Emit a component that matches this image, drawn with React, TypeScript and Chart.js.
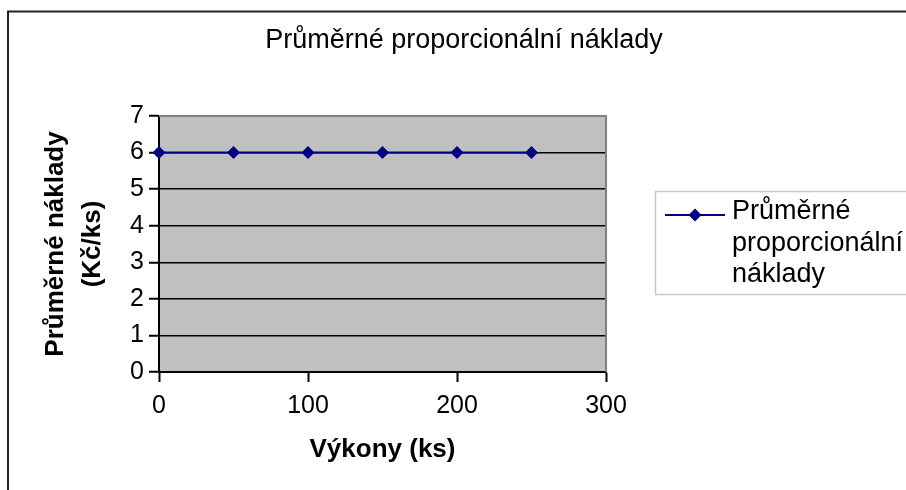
import React, { useEffect, useRef } from "react";
import { Chart, registerables } from "chart.js";

Chart.register(...registerables);

// ---- data ----
const chartTitle = "Průměrné proporcionální náklady";
const seriesLabel = "Průměrné proporcionální náklady";
const outputs = [0, 50, 100, 150, 200, 250];
const avgCosts = [6, 6, 6, 6, 6, 6];
const xAxisTitle = "Výkony (ks)";
const yAxisTitle = ["Průměrné náklady", "(Kč/ks)"];
const xRange = [0, 300];
const xStep = 100;
const yRange = [0, 7];
const yStep = 1;

const FONT = '"Liberation Sans", Arial, Helvetica, sans-serif';
const NAVY = "#000080";

const decor = {
  id: "excelDecor",
  afterLayout(chart: any) {
    const t = chart.titleBlock;
    if (t) {
      const w = t.right - t.left;
      const c = 464;
      t.left = c - w / 2;
      t.right = c + w / 2;
    }
  },
  beforeDraw(chart: any) {
    const { ctx, chartArea: a } = chart;
    ctx.save();
    ctx.fillStyle = "#ffffff";
    ctx.fillRect(0, 0, chart.width, chart.height);
    ctx.strokeStyle = "#222";
    ctx.lineWidth = 2;
    ctx.strokeRect(8, 11.5, chart.width + 40, chart.height + 40);
    ctx.fillStyle = "#c0c0c0";
    ctx.fillRect(a.left, a.top, a.right - a.left, a.bottom - a.top);
    ctx.restore();
  },
  beforeDatasetsDraw(chart: any) {
    const { ctx, chartArea: a } = chart;
    ctx.save();
    ctx.strokeStyle = "#808080";
    ctx.lineWidth = 2;
    ctx.beginPath();
    ctx.moveTo(a.left, a.top);
    ctx.lineTo(a.right, a.top);
    ctx.lineTo(a.right, a.bottom);
    ctx.stroke();
    ctx.restore();
  },
  afterDraw(chart: any) {
    const { ctx } = chart;
    const ds = chart.data.datasets[0];
    const lines = String(ds.label).split(" ");
    ctx.save();
    // legend box
    ctx.strokeStyle = "#c8c8c8";
    ctx.lineWidth = 1.5;
    ctx.strokeRect(655.5, 191.5, 300, 103);
    // line sample
    const ly = 215;
    ctx.strokeStyle = ds.borderColor;
    ctx.lineWidth = 2;
    ctx.beginPath();
    ctx.moveTo(665, ly);
    ctx.lineTo(725, ly);
    ctx.stroke();
    // diamond marker
    const r = 6.5;
    const mx = 695;
    ctx.fillStyle = ds.pointBackgroundColor;
    ctx.beginPath();
    ctx.moveTo(mx, ly - r);
    ctx.lineTo(mx + r, ly);
    ctx.lineTo(mx, ly + r);
    ctx.lineTo(mx - r, ly);
    ctx.closePath();
    ctx.fill();
    // text
    ctx.fillStyle = "#000";
    ctx.font = `27px ${FONT}`;
    ctx.textBaseline = "alphabetic";
    ctx.textAlign = "left";
    lines.forEach((t: string, i: number) => {
      ctx.fillText(t, 732, 219 + i * 31.5);
    });
    ctx.restore();
  },
};

export default function App() {
  const ref = useRef<HTMLCanvasElement | null>(null);

  useEffect(() => {
    if (!ref.current) return;
    const chart = new Chart(ref.current, {
      type: "line",
      data: {
        datasets: [
          {
            label: seriesLabel,
            data: outputs.map((x, i) => ({ x, y: avgCosts[i] })),
            borderColor: NAVY,
            backgroundColor: NAVY,
            pointBackgroundColor: NAVY,
            pointBorderColor: NAVY,
            borderWidth: 2,
            pointStyle: "rectRot",
            pointRadius: 6.5,
            pointBorderWidth: 0,
            tension: 0,
            clip: false as any,
          },
        ],
      },
      options: {
        responsive: false,
        animation: false,
        devicePixelRatio: 1,
        layout: { padding: { left: 10, right: 300, top: 0, bottom: 0 } },
        plugins: {
          legend: { display: false },
          tooltip: { enabled: false },
          title: {
            display: true,
            text: chartTitle,
            color: "#000",
            font: { family: FONT, size: 27, weight: "normal", lineHeight: 1.2 },
            padding: { top: 24.8, bottom: 58.8 },
          },
        },
        scales: {
          x: {
            type: "linear",
            min: xRange[0],
            max: xRange[1],
            afterFit: (s: any) => {
              s.height = 118;
            },
            ticks: {
              stepSize: xStep,
              color: "#000",
              font: { family: FONT, size: 25 },
              padding: 9,
              maxRotation: 0,
            },
            grid: {
              display: true,
              drawOnChartArea: false,
              drawTicks: true,
              tickLength: 10,
              tickColor: "#000",
              tickWidth: 2,
            },
            border: { display: true, color: "#000", width: 2 },
            title: {
              display: true,
              text: xAxisTitle,
              color: "#000",
              font: { family: FONT, size: 26, weight: "bold", lineHeight: 1.2 },
              padding: { top: 0, bottom: 25 },
            },
          },
          y: {
            type: "linear",
            min: yRange[0],
            max: yRange[1],
            afterFit: (s: any) => {
              s.width = 149;
            },
            ticks: {
              stepSize: yStep,
              color: "#000",
              font: { family: FONT, size: 25 },
              padding: 5,
            },
            grid: {
              color: (c: any) =>
                c.tick && c.tick.value > yRange[0] && c.tick.value < yRange[1]
                  ? "#000"
                  : "rgba(0,0,0,0)",
              lineWidth: 1.5,
              tickLength: 10,
              tickColor: "#000",
              tickWidth: 2,
            },
            border: { display: true, color: "#000", width: 2 },
            title: {
              display: true,
              text: yAxisTitle,
              color: "#000",
              font: { family: FONT, size: 26, weight: "bold", lineHeight: 1.42 },
              padding: { top: 27.5, bottom: 0 },
            },
          },
        },
      } as any,
      plugins: [decor],
    });
    return () => chart.destroy();
  }, []);

  return (
    <div style={{ position: "absolute", left: 0, top: 0, width: 906, height: 490 }}>
      <canvas ref={ref} width={906} height={490} style={{ display: "block" }} />
    </div>
  );
}
